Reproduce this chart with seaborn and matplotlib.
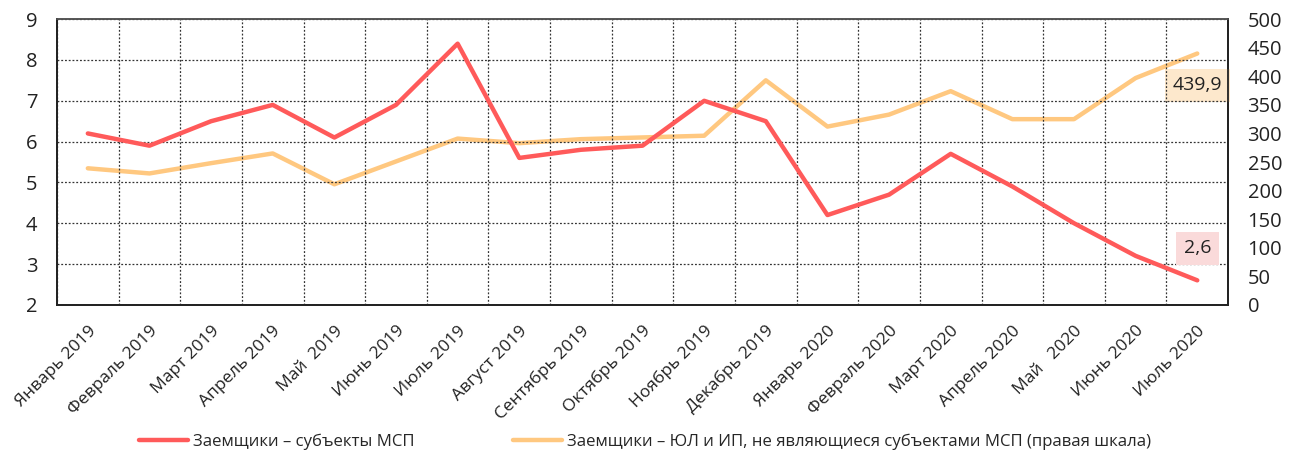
import matplotlib
matplotlib.use("Agg")
import matplotlib.pyplot as plt
import seaborn as sns
import pandas as pd
import numpy as np

months = ["Январь 2019", "Февраль 2019", "Март 2019", "Апрель 2019", "Май  2019",
          "Июнь 2019", "Июль 2019", "Август 2019", "Сентябрь 2019", "Октябрь 2019",
          "Ноябрь 2019", "Декабрь 2019", "Январь 2020", "Февраль 2020", "Март 2020",
          "Апрель 2020", "Май   2020", "Июнь 2020", "Июль 2020"]
msp = [6.2, 5.9, 6.5, 6.9, 6.1, 6.9, 8.4, 5.6, 5.8, 5.9, 7.0, 6.5, 4.2, 4.7, 5.7,
       4.9, 4.0, 3.2, 2.6]
non_msp = [239, 230, 248, 265, 211, 251, 291, 283, 290, 293, 296, 393, 312, 333, 374,
           325, 325, 397, 439.9]
label_msp = "Заемщики – субъекты МСП"
label_non = "Заемщики – ЮЛ и ИП, не являющиеся субъектами МСП (правая шкала)"

RED = "#FF5A5A"
ORANGE = "#FFC880"

sns.set_theme(style="white")
plt.rcParams["font.family"] = ["Open Sans", "DejaVu Sans"]

df = pd.DataFrame({"x": np.arange(len(months)), "msp": msp, "non": non_msp})

fig = plt.figure(figsize=(12.9, 4.57), dpi=100)
ax = fig.add_axes([0.0442, 0.333, 0.9078, 0.625])
ax2 = ax.twinx()

sns.lineplot(data=df, x="x", y="msp", ax=ax, color=RED, linewidth=3.2, label=label_msp, legend=False)
sns.lineplot(data=df, x="x", y="non", ax=ax2, color=ORANGE, linewidth=3.2, label=label_non, legend=False)
ax.set_zorder(ax2.get_zorder() + 1)
ax.patch.set_visible(False)

n = len(months)
ax.set_xlim(-0.5, n - 0.5)
ax.set_ylim(2, 9)
ax2.set_ylim(0, 500)
ax.set_yticks(range(2, 10))
ax2.set_yticks(range(0, 501, 50))
ax.set_xticks(np.arange(n))
ax.set_xticks(np.arange(-0.5, n, 1.0), minor=True)
ax.set_xticklabels(months, rotation=45, ha="right", rotation_mode="anchor", fontsize=12.5)
ax.set_xlabel("")
ax.set_ylabel("")
ax2.set_ylabel("")
ax.tick_params(axis="x", which="major", length=0, pad=13)
ax.tick_params(axis="x", which="minor", length=0)
ax.tick_params(axis="y", length=0, labelsize=14.5, pad=14, colors="#222222")
ax2.tick_params(axis="y", length=0, labelsize=14.5, pad=14, colors="#222222")
for lab in ax.get_xticklabels():
    lab.set_color("#222222")

ax.grid(False)
ax2.grid(False)
ax.grid(True, axis="y", which="major", linestyle=(0, (1.5, 1.5)), color="#333333", linewidth=0.9)
ax.grid(True, axis="x", which="minor", linestyle=(0, (1.5, 1.5)), color="#333333", linewidth=0.9)

for a in (ax, ax2):
    for s in ("left", "bottom", "right"):
        a.spines[s].set_visible(True)
        a.spines[s].set_color("#222222")
        a.spines[s].set_linewidth(1.3)
    a.spines["top"].set_visible(True)
    a.spines["top"].set_color("#555555")
    a.spines["top"].set_linestyle((0, (1.5, 1.0)))
    a.spines["top"].set_linewidth(1.2)

# value annotations
ax2.annotate("439,9", xy=(n - 1, non_msp[-1]), xytext=(0, -23), textcoords="offset points",
             ha="center", va="center", fontsize=14, color="#222222",
             bbox=dict(boxstyle="square,pad=0.4", fc="#FDE8CC", ec="none"))
ax.annotate("2,6", xy=(n - 1, msp[-1]), xytext=(0, 23), textcoords="offset points",
            ha="center", va="center", fontsize=14, color="#222222",
            bbox=dict(boxstyle="square,pad=0.4", fc="#FADADA", ec="none"))

h1, l1 = ax.get_legend_handles_labels()
h2, l2 = ax2.get_legend_handles_labels()
fig.legend(h1 + h2, l1 + l2, loc="center", bbox_to_anchor=(0.5, 0.033), ncol=2,
           frameon=False, fontsize=12.1, handlelength=2.9, columnspacing=5.9, handletextpad=0.3)

fig.savefig("out.png", dpi=100)
